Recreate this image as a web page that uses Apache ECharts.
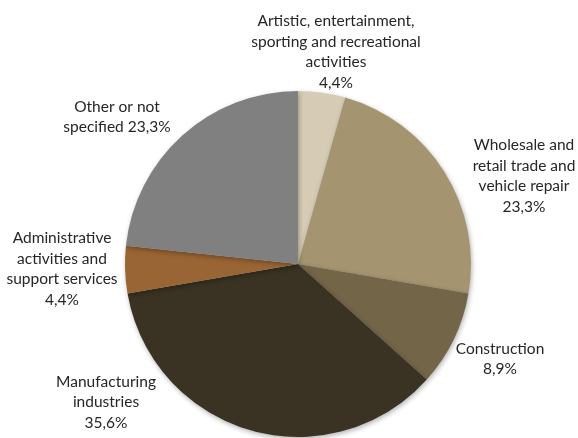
<!DOCTYPE html>
<html>
<head>
<meta charset="utf-8">
<script src="https://cdn.jsdelivr.net/npm/echarts@6/dist/echarts.min.js"></script>
<style>html,body{margin:0;padding:0;background:#fff}#c{width:578px;height:438px}</style>
</head>
<body>
<div id="c"></div>
<script>
var categories = [
  'Artistic, entertainment,\nsporting and recreational\nactivities',
  'Wholesale and\nretail trade and\nvehicle repair',
  'Construction',
  'Manufacturing\nindustries',
  'Administrative\nactivities and\nsupport services',
  'Other or not\nspecified'
];
var values = [4.4, 23.3, 8.9, 35.6, 4.4, 23.3];
var percentJoin = ['\n', '\n', '\n', '\n', '\n', ' '];
var colors = ['#D6CCB6', '#A59470', '#736547', '#3A3323', '#9A6534', '#808080'];
var labelPos = [[336, 52], [524, 176], [500, 359], [106, 402], [62, 269], [117, 117]];

var chart = echarts.init(document.getElementById('c'));
chart.setOption({
  animation: false,
  series: [{
    type: 'pie',
    center: [298, 264],
    radius: 173,
    startAngle: 90,
    clockwise: true,
    data: categories.map(function (n, i) {
      return { name: n, value: values[i], itemStyle: { color: colors[i] } };
    }),
    itemStyle: {
      shadowBlur: 5,
      shadowOffsetX: 1,
      shadowOffsetY: 2,
      shadowColor: 'rgba(0,0,0,0.3)'
    },
    label: {
      show: true,
      position: 'outside',
      overflow: 'none',
      fontFamily: 'Lato',
      fontSize: 15.5,
      lineHeight: 20.5,
      color: '#262626',
      align: 'center',
      formatter: function (p) {
        return p.name + percentJoin[p.dataIndex] + values[p.dataIndex].toFixed(1).replace('.', ',') + '%';
      }
    },
    labelLine: { show: false },
    labelLayout: function (p) {
      var pos = labelPos[p.dataIndex];
      return { x: pos[0], y: pos[1], align: 'center', verticalAlign: 'middle' };
    }
  }]
});
</script>
</body>
</html>
